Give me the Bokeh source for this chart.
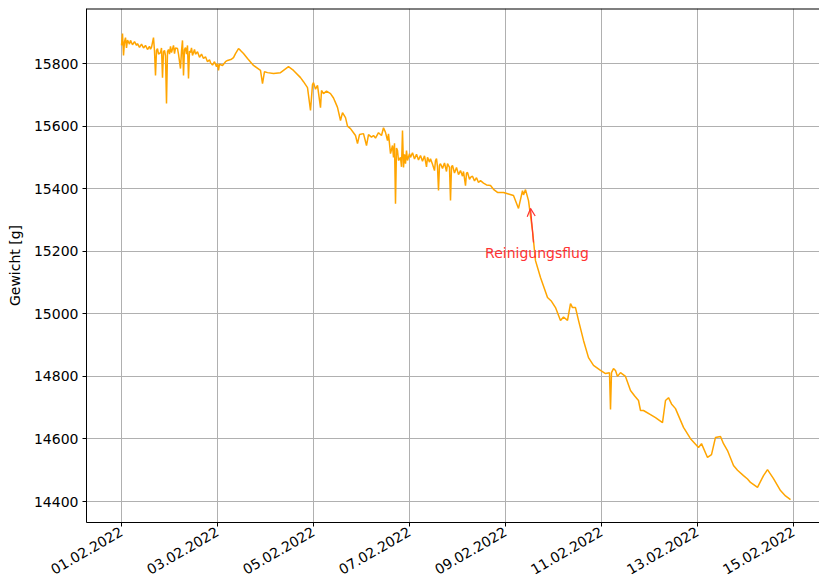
import math
import datetime
from bokeh.plotting import figure
from bokeh.models import (Range1d, FixedTicker, DatetimeTickFormatter, Arrow,
                          OpenHead, Label, Span)
from bokeh.embed import file_html
from bokeh.resources import INLINE

# ---------------- data ----------------
start_date = "2022-02-01 00:00"
hours_since_start = [
    0, 0.5, 1, 1.5, 2, 2.5, 3, 4, 4.5, 5.5, 6.5, 7.5, 8, 9, 10, 11, 12, 13,
    14, 14.5, 15, 16, 16.5, 17, 17.5, 18, 18.5, 19.5, 20, 20.5, 21, 21.5, 22,
    22.5, 23, 23.5, 24, 24.5, 25, 26, 26.5, 27, 28, 28.5, 29.5, 30, 30.5, 31,
    31.5, 32, 32.5, 33, 33.5, 34, 34.5, 35, 35.5, 36.5, 37, 38, 39, 40, 41,
    42, 43, 44, 44.5, 45.5, 46.5, 47.5, 48, 48.5, 49, 50.5, 52, 53, 55, 56,
    57, 58.5, 59.5, 61, 63, 66, 69.5, 70.5, 71.5, 73, 76, 79.5, 83.5,
    86, 89.5, 91, 93, 94.5, 95.5, 96, 97, 98, 99.5, 100, 101, 102.5, 104.5,
    106, 107, 108, 109.5, 110.5, 112, 113, 114.5, 116, 117, 118, 119, 121,
    122.5, 123.5, 125, 126, 127, 128.5, 130, 131, 132, 133, 133.5, 134.5,
    135.5, 136, 136.5, 137, 137.5, 138, 138.5, 139.5, 140, 140.5, 141, 141.5,
    142, 142.5, 143, 144, 144.5, 145.5, 146.5, 147.5, 148.5, 149.5, 150.5,
    151.5, 152.5, 153, 154, 154.5, 155.5, 156.5, 157, 157.5, 158, 158.5, 159,
    159.5, 160.5, 161.5, 162.5, 163, 164, 164.5, 165, 165.5, 166.5, 167.5,
    168.5, 169.5, 170.5, 171, 172, 172.5, 173, 174, 174.5, 175.5, 176.5,
    177.5, 178.5, 179.5, 181, 182.5, 184.5, 186, 188, 191, 193.5, 196, 198.5,
    200.5, 201, 202, 203.5, 205.5, 207, 209.5, 213, 215, 217, 219.5, 221,
    223, 224.5, 225.5, 227, 228.5, 231, 233.5, 236, 239.5, 242, 244, 244.5,
    245, 246, 247, 248, 249.5, 252, 254.5, 256.5, 258.5, 259.5, 261, 264.5,
    267, 270.5, 272, 273.5, 275, 277, 281, 284.5, 288.5, 290, 293, 295, 297,
    299.5, 301, 303, 306, 308, 311, 313, 314.5, 318, 321, 323, 326, 329.5,
    332, 334.5,
]
weights_g = [
    15858, 15896, 15826, 15870, 15883, 15850, 15875, 15862, 15874, 15860,
    15870, 15858, 15864, 15852, 15862, 15850, 15858, 15845, 15855, 15846,
    15852, 15883, 15840, 15762, 15842, 15848, 15830, 15835, 15850, 15755,
    15838, 15842, 15825, 15672, 15838, 15845, 15830, 15855, 15835, 15858,
    15832, 15850, 15848, 15830, 15784, 15840, 15874, 15762, 15845, 15851,
    15830, 15858, 15752, 15840, 15835, 15850, 15826, 15845, 15830, 15838,
    15820, 15830, 15816, 15822, 15806, 15812, 15803, 15795, 15806, 15790,
    15800, 15778, 15798, 15794, 15806, 15810, 15814, 15819, 15832, 15848,
    15842, 15832, 15816, 15794, 15778, 15736, 15774, 15771, 15768, 15771,
    15790, 15778, 15755, 15742, 15723, 15650, 15733, 15739, 15718, 15730,
    15659, 15714, 15704, 15712, 15704, 15690, 15675, 15660, 15618, 15643,
    15627, 15600, 15592, 15579, 15570, 15544, 15573, 15576, 15538, 15573,
    15565, 15570, 15562, 15579, 15570, 15595, 15580, 15554, 15575, 15512,
    15538, 15500, 15545, 15352, 15530, 15522, 15490, 15500, 15470, 15586,
    15468, 15510, 15480, 15522, 15490, 15512, 15500, 15515, 15495, 15510,
    15492, 15506, 15488, 15505, 15470, 15500, 15485, 15496, 15478, 15458,
    15490, 15496, 15470, 15394, 15475, 15480, 15465, 15482, 15455, 15480,
    15468, 15362, 15470, 15474, 15450, 15468, 15445, 15458, 15440, 15455,
    15410, 15450, 15452, 15430, 15436, 15440, 15425, 15435, 15420, 15426,
    15418, 15412, 15410, 15398, 15388, 15388, 15383, 15378, 15337, 15394,
    15380, 15397, 15362, 15266, 15170, 15116, 15052, 15040, 15020, 14979,
    14990, 14979, 15033, 15020, 15020, 14979, 14915, 14860, 14835, 14819,
    14809, 14812, 14694, 14812, 14825, 14819, 14800, 14812, 14800, 14755,
    14738, 14723, 14691, 14691, 14678, 14668, 14652, 14723, 14732, 14712,
    14697, 14637, 14601, 14573, 14585, 14541, 14550, 14605, 14608, 14585,
    14563, 14515, 14500, 14483, 14472, 14461, 14445, 14483, 14502, 14473,
    14435, 14418, 14406,
]
tick_dates = ["2022-02-01", "2022-02-03", "2022-02-05", "2022-02-07",
              "2022-02-09", "2022-02-11", "2022-02-13", "2022-02-15"]
y_ticks = [14400, 14600, 14800, 15000, 15200, 15400, 15600, 15800]

annotation_text = "Reinigungsflug"
annotation_point = (204.5, 15337)   # hours since start, grams
annotation_tail = (206.0, 15228)
annotation_text_pos = (207.75, 15196)
y_label = "Gewicht [g]"

# ---------------- build ----------------
t0 = datetime.datetime.strptime(start_date, "%Y-%m-%d %H:%M")
epoch = datetime.datetime(1970, 1, 1)


def to_ms(dt):
    return (dt - epoch).total_seconds() * 1000.0


def h_ms(h):
    return to_ms(t0 + datetime.timedelta(hours=h))


times = [t0 + datetime.timedelta(hours=h) for h in hours_since_start]
tick_ms = [to_ms(datetime.datetime.strptime(d, "%Y-%m-%d")) for d in tick_dates]

FONT = "DejaVu Sans"
Y_TOP = 15976

p = figure(width=819, height=586, x_axis_type="datetime",
           x_range=Range1d(h_ms(-17.5), h_ms(349)),
           y_range=Range1d(14333, Y_TOP),
           output_backend="svg", toolbar_location=None,
           min_border_left=86, min_border_right=0, min_border_top=8,
           min_border_bottom=64)
p.outline_line_color = None
p.background_fill_color = "white"
p.border_fill_color = "white"

p.line(times, weights_g, line_color="#ffa500", line_width=1.5)

# axes
p.xaxis.ticker = FixedTicker(ticks=tick_ms)
fmt = "%d.%m.%Y"
p.xaxis.formatter = DatetimeTickFormatter(
    milliseconds=fmt, seconds=fmt, minsec=fmt, minutes=fmt, hourmin=fmt,
    hours=fmt, days=fmt, months=fmt, years=fmt)
p.xaxis.major_label_orientation = math.pi / 6
p.yaxis.ticker = FixedTicker(ticks=y_ticks)
p.yaxis.axis_label = y_label

for ax in (p.xaxis[0], p.yaxis[0]):
    ax.axis_line_color = "black"
    ax.axis_line_width = 1
    ax.major_tick_line_color = "black"
    ax.major_tick_out = 4
    ax.major_tick_in = 0
    ax.minor_tick_line_color = None
    ax.major_label_text_font = FONT
    ax.major_label_text_font_size = "14px"
    ax.major_label_text_color = "black"
    ax.major_label_standoff = 4
    ax.axis_label_text_font = FONT
    ax.axis_label_text_font_size = "14px"
    ax.axis_label_text_font_style = "normal"
    ax.axis_label_text_color = "black"
    ax.axis_label_standoff = 8

# top spine
p.add_layout(Span(location=Y_TOP, dimension="width", line_color="black",
                  line_width=2))

p.xgrid.grid_line_color = "#b0b0b0"
p.ygrid.grid_line_color = "#b0b0b0"
p.xgrid.grid_line_width = 1
p.ygrid.grid_line_width = 1

# annotation
red = "#ff3333"
p.add_layout(Arrow(end=OpenHead(size=8, line_color=red, line_width=1.2),
                   x_start=h_ms(annotation_tail[0]), y_start=annotation_tail[1],
                   x_end=h_ms(annotation_point[0]), y_end=annotation_point[1],
                   line_color=red, line_width=1.2))
p.add_layout(Label(x=h_ms(annotation_text_pos[0]), y=annotation_text_pos[1],
                   text=annotation_text, text_align="center",
                   text_baseline="middle", text_font=FONT,
                   text_font_size="14px", text_color=red))

open("out.html", "w").write(file_html(p, INLINE))
